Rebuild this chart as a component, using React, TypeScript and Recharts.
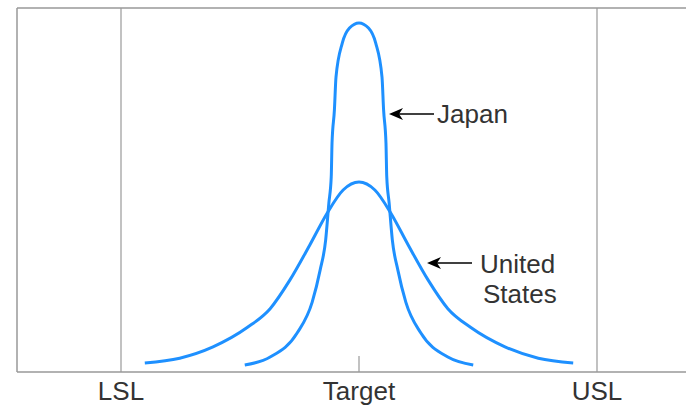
import React from "react";
import { LineChart, Line, XAxis, YAxis, ReferenceLine } from "recharts";

// x in process-spread units (LSL = -3, Target = 0, USL = 3), y = relative frequency
const japanX = [-1.44, -1.12, -0.78, -0.59, -0.49, -0.42, -0.38, -0.35, -0.34, -0.31, -0.29, -0.21, -0.12, 0, 0.12, 0.21, 0.29, 0.31, 0.34, 0.35, 0.38, 0.42, 0.49, 0.59, 0.78, 1.12, 1.44];
const japanY = [0.019, 0.041, 0.107, 0.192, 0.28, 0.363, 0.464, 0.536, 0.629, 0.72, 0.81, 0.904, 0.945, 0.959, 0.945, 0.904, 0.81, 0.72, 0.629, 0.536, 0.464, 0.363, 0.28, 0.192, 0.107, 0.041, 0.019];

const usX = [-2.7, -2.26, -1.84, -1.41, -1.12, -0.87, -0.62, -0.4, -0.2, 0, 0.2, 0.4, 0.62, 0.87, 1.12, 1.41, 1.84, 2.26, 2.7];
const usY = [0.025, 0.038, 0.069, 0.122, 0.174, 0.253, 0.349, 0.437, 0.5, 0.522, 0.5, 0.437, 0.349, 0.253, 0.174, 0.122, 0.069, 0.038, 0.025];

const tickValues = [-3, 0, 3];
const tickLabels = ["LSL", "Target", "USL"];

const japanData = japanX.map((x, i) => ({ x, y: japanY[i] }));
const usData = usX.map((x, i) => ({ x, y: usY[i] }));

const FONT = "'Liberation Sans', Arial, sans-serif";
const BLUE = "#1E90FF";
const GRAY = "#999999";

const App = () => {
    return (
        <div style={{ position: "absolute", left: 0, top: 0, width: 686, height: 411, overflow: "hidden", background: "#fff" }}>
            <LineChart width={720} height={411} margin={{ top: 8, left: 17, right: 19, bottom: 0 }}>
                <XAxis
                    type="number"
                    dataKey="x"
                    height={39}
                    domain={[-4.311, 4.311]}
                    ticks={tickValues}
                    tickFormatter={(v) => tickLabels[tickValues.indexOf(v)]}
                    tickLine={false}
                    axisLine={{ stroke: GRAY, strokeWidth: 1.5 }}
                    tick={{ fill: "#333", fontSize: 26, fontFamily: FONT }}
                    tickMargin={4}
                    allowDataOverflow
                />
                <YAxis type="number" domain={[0, 1]} hide allowDataOverflow />
                <ReferenceLine y={1} stroke={GRAY} strokeWidth={1.5} />
                <ReferenceLine x={-4.311} stroke={GRAY} strokeWidth={1.5} />
                <ReferenceLine x={-3} stroke={GRAY} strokeWidth={1.2} />
                <ReferenceLine x={3} stroke={GRAY} strokeWidth={1.2} />
                <ReferenceLine segment={[{ x: 0, y: 0 }, { x: 0, y: 0.044 }]} stroke={GRAY} strokeWidth={1.2} />
                <Line data={usData} dataKey="y" type="monotone" stroke={BLUE} strokeWidth={3} dot={false} isAnimationActive={false} />
                <Line data={japanData} dataKey="y" type="monotone" stroke={BLUE} strokeWidth={3} dot={false} isAnimationActive={false} />
            </LineChart>
            <svg width={686} height={411} style={{ position: "absolute", left: 0, top: 0, pointerEvents: "none" }}>
                <line x1={392} y1={114} x2={434} y2={114} stroke="#000" strokeWidth={1.5} />
                <path d="M389,114 L403,108 L399,114 L403,120 Z" fill="#000" />
                <text x={437} y={123} fontSize={26} fontFamily={FONT} fill="#333">Japan</text>
                <line x1={430} y1={263} x2={472} y2={263} stroke="#000" strokeWidth={1.5} />
                <path d="M427,263 L441,257 L437,263 L441,269 Z" fill="#000" />
                <text x={480} y={273} fontSize={26} fontFamily={FONT} fill="#333">United</text>
                <text x={483} y={303} fontSize={26} fontFamily={FONT} fill="#333">States</text>
            </svg>
        </div>
    );
};

export default App;
